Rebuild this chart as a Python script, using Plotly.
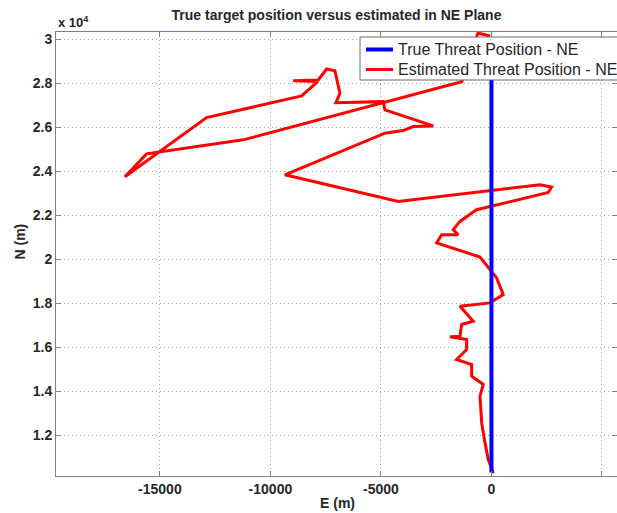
import plotly.graph_objects as go

# True threat position (E, N) in metres
true_E = [0, 0]
true_N = [10300, 30000]

# Estimated threat position (E, N) in metres
est_E = [81, 9, -145, -294, -443, -520, -371, -896, -896, -1575, -1122, -1122,
         -1878, -1425, -1348, -824, -1425, -68, 534, 235, -520, -2480, -2253,
         -1502, -1729, -1425, -670, 2570, 2716, 2195, -4217, -9344, -4819, -3991,
         -3539, -2634, -4819, -4896, -7036, -6856, -7082, -7457, -7837, -8969,
         -7851, -8588, -12887, -16584, -15602, -11231, -1348, -611, -68]
est_N = [10260, 10446, 10899, 11657, 12564, 13771, 14302, 14679, 15209, 15436,
         15890, 16344, 16466, 16493, 17024, 17174, 17854, 18009, 18385, 19143,
         20096, 20731, 21107, 21107, 21334, 21711, 22242, 23027, 23272, 23376,
         22618, 23830, 25722, 25840, 26021, 26053, 26779, 27155, 27110, 27536,
         28562, 28639, 28140, 28108, 28072, 27414, 26429, 23739, 24782, 25418,
         28063, 30272, 30136]

x_ticks = [-15000, -10000, -5000, 0, 5000]
y_ticks = [12000, 14000, 16000, 18000, 20000, 22000, 24000, 26000, 28000, 30000]
y_ticktext = ["1.2", "1.4", "1.6", "1.8", "2", "2.2", "2.4", "2.6", "2.8", "3"]

series_names = ["True Threat Position - NE", "Estimated Threat Position - NE"]
series_colors = ["#0000ff", "#ff0000"]

FONT = "Liberation Sans"
TXT = "#262626"

W, H = 617, 513
ML, MR, MT, MB = 56, 0, 32, 37
PW, PH = W - ML - MR, H - MT - MB


def px_x(px):
    return (px - ML) / PW


def px_y(py):
    return (H - MB - py) / PH


fig = go.Figure()
fig.add_trace(go.Scatter(x=est_E, y=est_N, mode="lines",
                         line=dict(color=series_colors[1], width=3),
                         name=series_names[1], showlegend=False))
fig.add_trace(go.Scatter(x=true_E, y=true_N, mode="lines",
                         line=dict(color=series_colors[0], width=4),
                         name=series_names[0], showlegend=False))

axis_common = dict(showline=True, linecolor="#808080", linewidth=1, mirror="ticks",
                   ticks="inside", ticklen=5, tickcolor="#808080",
                   showgrid=True, gridcolor="#a8a8a8", griddash="1px,3px", gridwidth=1,
                   zeroline=False, automargin=False,
                   tickfont=dict(family=FONT, size=14, color=TXT, weight="bold"))

fig.update_xaxes(range=[-19700, 5680], tickvals=x_ticks,
                 ticktext=[str(v) for v in x_ticks], **axis_common)
fig.update_yaxes(range=[10140, 30320], tickvals=y_ticks, ticktext=y_ticktext,
                 **axis_common)

# Legend box drawn as shapes + text (matches the compact MATLAB legend)
shapes = [dict(type="rect", xref="paper", yref="paper",
               x0=px_x(360), x1=px_x(622), y0=px_y(80), y1=px_y(37),
               fillcolor="white", line=dict(color="#6a6a6a", width=1), layer="above")]
annotations = []
for i, (nm, col) in enumerate(zip(series_names, series_colors)):
    yy = 49.5 + 20 * i
    shapes.append(dict(type="line", xref="paper", yref="paper",
                       x0=px_x(366), x1=px_x(393), y0=px_y(yy), y1=px_y(yy),
                       line=dict(color=col, width=4 if i == 0 else 3), layer="above"))
    annotations.append(dict(text=nm, xref="paper", yref="paper",
                            x=px_x(396), xanchor="left", y=px_y(yy), yanchor="middle",
                            showarrow=False,
                            font=dict(family=FONT, size=16, color=TXT)))

annotations += [
    dict(text="<b>x 10<sup>4</sup></b>", xref="paper", yref="paper",
         x=0, xanchor="left", y=1.0, yanchor="bottom", yshift=0,
         showarrow=False, font=dict(family=FONT, size=13, color=TXT)),
    dict(text="<b>E (m)</b>", xref="paper", yref="paper",
         x=px_x(337), xanchor="center", y=px_y(503), yanchor="middle",
         showarrow=False, font=dict(family=FONT, size=14, color=TXT)),
    dict(text="<b>N (m)</b>", xref="paper", yref="paper", textangle=-90,
         x=px_x(19.5), xanchor="center", y=px_y(242), yanchor="middle",
         showarrow=False, font=dict(family=FONT, size=14, color=TXT)),
]

fig.update_layout(
    width=W, height=H,
    margin=dict(l=ML, r=MR, t=MT, b=MB, autoexpand=False),
    paper_bgcolor="white", plot_bgcolor="white",
    title=dict(text="<b>True target position versus estimated in NE Plane</b>",
               x=0.5, xref="paper", xanchor="center", y=1 - 15 / H, yanchor="middle",
               font=dict(family=FONT, size=14, color=TXT)),
    showlegend=False,
    shapes=shapes,
    annotations=annotations,
)

fig.write_html("out.html", config={"displayModeBar": False},
               post_script="document.body.style.margin='0px';")
